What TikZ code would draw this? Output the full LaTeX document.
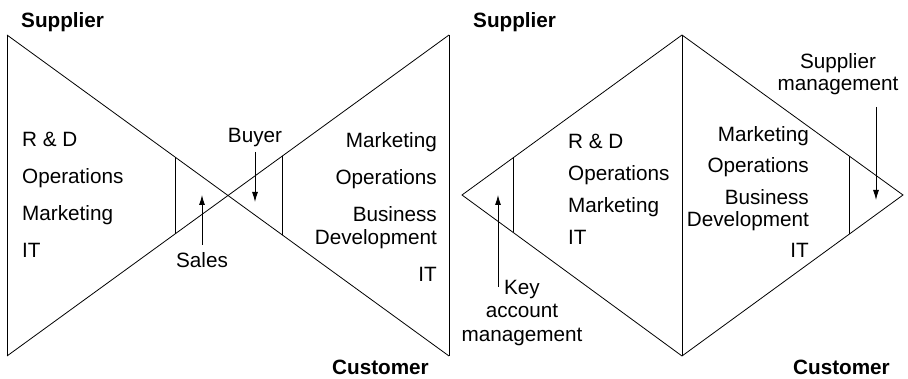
\documentclass[tikz,border=0pt]{standalone}
\usepackage{fontspec}
\setmainfont{Liberation Sans}
\usetikzlibrary{arrows.meta,calc}
\begin{document}
\begin{tikzpicture}[x=1pt,y=-1pt]
            \tikzstyle{every node} = [inner sep=0pt, font=\fontsize{20.7}{23.5}\selectfont]
            \tikzstyle{ann} = [anchor=base west]
            \tikzstyle{annr} = [anchor=base east]
            \tikzstyle{annc} = [anchor=base]
            \tikzstyle{party} = [anchor=base west, font=\fontsize{20.7}{23.5}\selectfont\bfseries]
            \tikzstyle{frame} = [line width=0.8pt, line join=miter]
            \tikzstyle{pointer} = [line width=0.9pt, -{Latex[length=10pt,width=6pt]}]
            \useasboundingbox (0,0) rectangle (908,379);
            % bow tie
            \coordinate (tl) at (7,35);
            \coordinate (tr) at (449,35);
            \coordinate (bl) at (7,356);
            \coordinate (br) at (449,356);
            \draw[frame] (tl) -- (bl);
            \draw[frame] (tr) -- (br);
            \draw[frame] (tl) -- (br);
            \draw[frame] (bl) -- (tr);
            \draw[frame] ($(tl)!0.380!(br)$) -- ($(bl)!0.380!(tr)$);
            \draw[frame] ($(tl)!0.622!(br)$) -- ($(bl)!0.622!(tr)$);
            \node[party] (sup1) at (21,28) {Supplier};
            \node[party, anchor=base east] (cus1) at (429,374.5) {Customer};
            \node[ann] (rd1) at (22,147) {R \& D};
            \node[ann] (op1) at (22,184) {Operations};
            \node[ann] (mk1) at (22,221) {Marketing};
            \node[ann] (it1) at (22,258) {IT};
            \node[annr] (mk2) at (437,148) {Marketing};
            \node[annr] (op2) at (437,185) {Operations};
            \node[annr] (bu2) at (437,222) {Business};
            \node[annr] (de2) at (437,245) {Development};
            \node[annr] (it2) at (437,282) {IT};
            \node[annc] (buyer) at (255,143) {Buyer};
            \node[annc] (sales) at (202,268) {Sales};
            \coordinate (buyer0) at (255,152);
            \coordinate (buyer1) at (255,202);
            \coordinate (sales0) at (202,245);
            \coordinate (sales1) at (202,195);
            \draw[pointer] (buyer0) -- (buyer1);
            \draw[pointer] (sales0) -- (sales1);
            % diamond
            \coordinate (dl) at (462,195);
            \coordinate (dt) at (682,35);
            \coordinate (dr) at (903,195);
            \coordinate (db) at (682,356);
            \draw[frame] (dl) -- (dt) -- (dr) -- (db) -- cycle;
            \draw[frame] (dt) -- (db);
            \draw[frame] ($(dl)!0.232!(dt)$) -- ($(dl)!0.232!(db)$);
            \draw[frame] ($(dr)!0.244!(dt)$) -- ($(dr)!0.244!(db)$);
            \node[party] (sup2) at (473,28) {Supplier};
            \node[party, anchor=base east] (cus2) at (890,374.5) {Customer};
            \node[ann] (rd3) at (568,149) {R \& D};
            \node[ann] (op3) at (568,181) {Operations};
            \node[ann] (mk3) at (568,213) {Marketing};
            \node[ann] (it3) at (568,245) {IT};
            \node[annr] (mk4) at (809,142) {Marketing};
            \node[annr] (op4) at (809,173) {Operations};
            \node[annr] (bu4) at (809,205) {Business};
            \node[annr] (de4) at (809,227) {Development};
            \node[annr] (it4) at (809,258) {IT};
            \node[align=center, anchor=north] (kam) at (522,280) {Key\\account\\management};
            \node[align=center, anchor=north, font=\fontsize{20.7}{22}\selectfont] (sm) at (838,53) {Supplier\\management};
            \coordinate (kam0) at (498,287);
            \coordinate (kam1) at (498,195);
            \coordinate (sm0) at (876,107);
            \coordinate (sm1) at (876,200);
            \draw[pointer] (kam0) -- (kam1);
            \draw[pointer] (sm0) -- (sm1);
        \end{tikzpicture}
\end{document}
